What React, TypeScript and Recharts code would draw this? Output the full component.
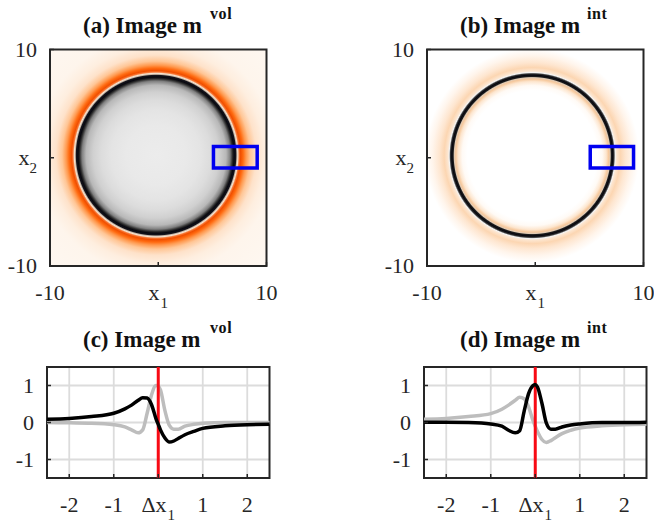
import { CartesianGrid, ComposedChart, Line, LineChart, ReferenceArea, ReferenceLine, XAxis, YAxis } from "recharts";

const imageTicks = [-10, 0, 10];
const profileXTicks = [-2, -1, 0, 1, 2];
const profileYTicks = [-1, 0, 1];

const positions = [-2.5, -2, -1.5, -1, -0.75, -0.6, -0.45, -0.35, -0.25, -0.15, -0.05, 0, 0.05, 0.15, 0.25, 0.35, 0.45, 0.6, 0.8, 1, 1.5, 2, 2.5];
const volBlack = [0.09, 0.11, 0.16, 0.25, 0.37, 0.47, 0.6, 0.67, 0.66, 0.48, 0.1, -0.05, -0.2, -0.42, -0.53, -0.5, -0.43, -0.33, -0.24, -0.16, -0.09, -0.06, -0.05];
const volGray = [0, -0.01, -0.02, -0.06, -0.12, -0.2, -0.28, -0.2, 0.25, 0.75, 1, 0.98, 0.88, 0.32, -0.08, -0.18, -0.18, -0.1, -0.05, -0.02, 0, 0, 0];
const intBlack = [0.01, 0.01, 0, -0.04, -0.1, -0.21, -0.28, -0.22, 0.3, 0.78, 1, 1.03, 0.96, 0.52, -0.02, -0.18, -0.18, -0.12, -0.07, -0.04, 0, 0, 0.01];
const intGray = [0.09, 0.11, 0.16, 0.24, 0.36, 0.47, 0.6, 0.68, 0.64, 0.42, 0.05, -0.1, -0.24, -0.46, -0.54, -0.49, -0.41, -0.3, -0.21, -0.15, -0.09, -0.06, -0.05];

// radial profile of each image: radius in px from the ring centre, colour
const volStops: [number, string][] = [
  [0, "#ececec"], [30, "#e9e9e9"], [45, "#e4e4e4"], [55, "#dcdcdc"], [63, "#d0d0d0"], [70, "#b8b8b8"], [74, "#808080"], [76.5, "#2a2a2a"], [78, "#08080f"], [79.8, "#14141c"],
  [80.8, "#c8b8a8"], [81.8, "#f8e6d4"], [83, "#f87a38"], [84.5, "#f04e00"], [87, "#ff6a10"], [90, "#ff9a50"], [94, "#ffc696"], [100, "#fee2ca"], [108, "#feeedf"], [120, "#fef5ec"], [165, "#fef8f2"],
];
const intStops: [number, string][] = [
  [0, "#ffffff"], [65, "#ffffff"], [70, "#fffaf5"], [74, "#fde6cf"], [76.5, "#f6c89c"], [78, "#e0cab4"], [79, "#1c1c1c"], [80.5, "#06060e"],
  [81.8, "#333333"], [83, "#f4f4f4"], [84.5, "#fde6d0"], [88, "#fcd6b2"], [93, "#fee6d0"], [100, "#fff5ec"], [107, "#ffffff"], [165, "#ffffff"],
];

const INK = "#262626";
const SERIF = "'Liberation Serif', serif";

function rows(black: number[], gray: number[]) {
  return positions.map((x, i) => ({ x, black: black[i], gray: gray[i] }));
}

function BottomTick({ x, y, payload, zeroLabel }: any) {
  const v = payload.value;
  return (
    <g>
      <line x1={x} x2={x} y1={y} y2={y - 4} stroke={INK} strokeWidth={1.5} />
      {v === 0 ? (
        <text x={x} y={y + 34} textAnchor="middle" fontFamily={SERIF} fontSize={22} fill={INK}>
          {zeroLabel}
          <tspan dy={8} dx={1} fontSize={15}>1</tspan>
        </text>
      ) : (
        <text x={x} y={y + 34} textAnchor="middle" fontFamily={SERIF} fontSize={22} fill={INK}>{v}</text>
      )}
    </g>
  );
}

function LeftTick({ x, y, payload, zeroSub }: any) {
  const v = payload.value;
  return (
    <g>
      <line x1={x} x2={x + 4} y1={y} y2={y} stroke={INK} strokeWidth={1.5} />
      <text x={x - 13} y={y + 7} textAnchor="end" fontFamily={SERIF} fontSize={22} fill={INK}>
        {v === 0 && zeroSub ? (
          <>
            x<tspan dy={8} fontSize={15}>2</tspan>
          </>
        ) : v}
      </text>
    </g>
  );
}

function TopTick({ x, y }: any) {
  return <line x1={x} x2={x} y1={y} y2={y + 4} stroke={INK} strokeWidth={1.5} />;
}

function RightTick({ x, y }: any) {
  return <line x1={x} x2={x - 4} y1={y} y2={y} stroke={INK} strokeWidth={1.5} />;
}

function Title({ left, top, text, sup }: { left: number; top: number; text: string; sup: string }) {
  return (
    <div style={{ position: "absolute", left, top, fontFamily: SERIF, fontWeight: "bold", fontSize: 23, lineHeight: "26px", whiteSpace: "pre", color: "#111" }}>
      {text}
      <span style={{ position: "absolute", left: 127, top: -12, fontSize: 16, letterSpacing: 0.6 }}>{sup}</span>
    </div>
  );
}

function ImagePanel({ id, left, stops, cx, cy, box }: any) {
  const plot = 216.5;
  const rMax = 165;
  return (
    <div style={{ position: "absolute", left, top: 0 }}>
      <ComposedChart width={50 + plot + 30} height={49.5 + plot + 50} data={[{ x: 0, y: 0 }]} margin={{ top: 49.5, right: 30, bottom: 0, left: 0 }}>
        <defs>
          <radialGradient id={id} cx={cx} cy={cy} r={rMax / plot}>
            {stops.map(([r, c]: [number, string]) => (
              <stop key={r} offset={r / rMax} stopColor={c} />
            ))}
          </radialGradient>
        </defs>
        <XAxis dataKey="x" type="number" domain={[-10, 10]} ticks={imageTicks} interval={0} height={50} axisLine={false} tickLine={false} tickSize={0} tickMargin={0} tick={<BottomTick zeroLabel="x" />} />
        <XAxis xAxisId="top" orientation="top" dataKey="x" type="number" domain={[-10, 10]} ticks={imageTicks} interval={0} height={0} axisLine={false} tickLine={false} tickSize={0} tickMargin={0} tick={<TopTick />} />
        <YAxis dataKey="y" type="number" domain={[-10, 10]} ticks={imageTicks} interval={0} width={50} axisLine={false} tickLine={false} tickSize={0} tickMargin={0} tick={<LeftTick zeroSub />} />
        <YAxis yAxisId="right" dataKey="y" orientation="right" type="number" domain={[-10, 10]} ticks={imageTicks} interval={0} width={0} axisLine={false} tickLine={false} tickSize={0} tickMargin={0} tick={<RightTick />} />
        <ReferenceArea x1={-10} x2={10} y1={-10} y2={10} fill={`url(#${id})`} fillOpacity={1} stroke={INK} strokeWidth={2} />
        <ReferenceArea x1={box[0]} x2={box[1]} y1={-0.95} y2={1.05} fill="none" stroke="#0000f0" strokeWidth={3.5} />
      </ComposedChart>
    </div>
  );
}

function ProfilePanel({ left, data }: any) {
  const w = 222.5;
  const h = 111;
  return (
    <div style={{ position: "absolute", left, top: 340 }}>
      <LineChart width={47 + w + 30} height={27 + h + 50} data={data} margin={{ top: 27, right: 30, bottom: 0, left: 0 }}>
        <CartesianGrid stroke="#dcdcdc" strokeWidth={1.8} horizontalValues={profileYTicks} verticalValues={profileXTicks} />
        <XAxis dataKey="x" type="number" domain={[-2.5, 2.5]} ticks={profileXTicks} interval={0} height={50} axisLine={false} tickLine={false} tickSize={0} tickMargin={0} tick={<BottomTick zeroLabel="Δx" />} />
        <XAxis xAxisId="top" orientation="top" dataKey="x" type="number" domain={[-2.5, 2.5]} ticks={profileXTicks} interval={0} height={0} axisLine={false} tickLine={false} tickSize={0} tickMargin={0} tick={<TopTick />} />
        <YAxis type="number" domain={[-1.5, 1.5]} ticks={profileYTicks} interval={0} width={47} axisLine={false} tickLine={false} tickSize={0} tickMargin={0} tick={<LeftTick />} />
        <YAxis yAxisId="right" orientation="right" type="number" domain={[-1.5, 1.5]} ticks={profileYTicks} interval={0} width={0} axisLine={false} tickLine={false} tickSize={0} tickMargin={0} tick={<RightTick />} />
        <Line dataKey="gray" type="monotone" stroke="#bdbdbd" strokeWidth={3.5} dot={false} isAnimationActive={false} />
        <ReferenceLine x={0} stroke="#f80a14" strokeWidth={3} />
        <Line dataKey="black" type="monotone" stroke="#000000" strokeWidth={3.5} dot={false} isAnimationActive={false} />
        <ReferenceArea x1={-2.5} x2={2.5} y1={-1.5} y2={1.5} fill="none" stroke={INK} strokeWidth={2} />
      </LineChart>
    </div>
  );
}

export default function App() {
  return (
    <div style={{ position: "absolute", left: 0, top: 0, width: 654, height: 522, background: "#fff", overflow: "hidden" }}>
      <ImagePanel id="volImage" left={0} stops={volStops} cx={0.49} cy={0.488} box={[5.1, 9.14]} />
      <ImagePanel id="intImage" left={377} stops={intStops} cx={0.486} cy={0.49} box={[5.08, 9.08]} />
      <ProfilePanel left={0} data={rows(volBlack, volGray)} />
      <ProfilePanel left={377} data={rows(intBlack, intGray)} />
      <Title left={83} top={13} text="(a) Image m" sup="vol" />
      <Title left={460} top={13} text="(b) Image m" sup="int" />
      <Title left={83} top={327} text="(c) Image m" sup="vol" />
      <Title left={460} top={327} text="(d) Image m" sup="int" />
    </div>
  );
}
